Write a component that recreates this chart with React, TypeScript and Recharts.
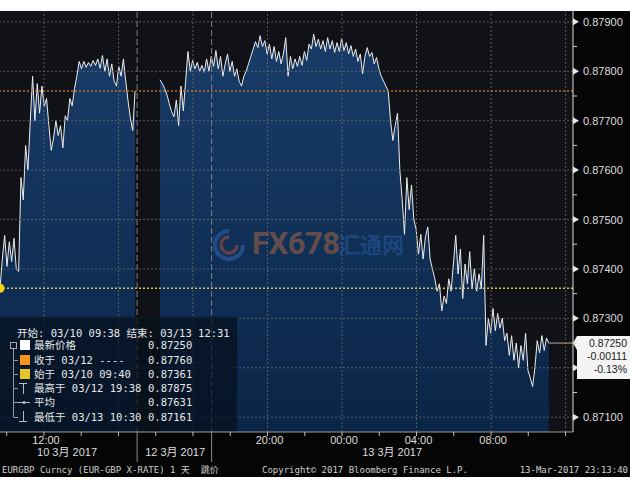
import { ComposedChart, Area, XAxis, YAxis, ReferenceLine, ReferenceDot } from "recharts";

// chart hours: 12 = 03/10 12:00, weekend squeezed out
const DAY1_START = 9.64;
const DAY2_START = 18.23;
const STEP = 0.125;

// EURGBP ticks, in 1e-5
const day1Prices = [
  87361, 87420, 87468, 87405, 87455, 87415, 87462, 87400, 87395, 87585,
  87540, 87650, 87600, 87700, 87790, 87700, 87775, 87715, 87770, 87730,
  87745, 87690, 87640, 87665, 87700, 87670, 87690, 87645, 87710, 87700,
  87745, 87730, 87765, 87790, 87820, 87805, 87820, 87808, 87818, 87810,
  87822, 87812, 87825, 87806, 87832, 87800, 87825, 87790, 87815, 87780,
  87770, 87810, 87790, 87825, 87780, 87740, 87705, 87680, 87760,
];
const day2Prices = [
  87783, 87775, 87765, 87752, 87734, 87718, 87708, 87742, 87690, 87770,
  87720, 87780, 87840, 87800, 87822, 87805, 87818, 87800, 87812, 87798,
  87825, 87800, 87830, 87810, 87842, 87805, 87830, 87790, 87815, 87835,
  87800, 87820, 87790, 87805, 87780, 87770, 87790, 87800, 87815, 87830,
  87845, 87860, 87848, 87872, 87850, 87862, 87835, 87855, 87825, 87850,
  87820, 87840, 87815, 87835, 87868, 87790, 87830, 87805, 87825, 87810,
  87830, 87812, 87840, 87822, 87855, 87845, 87875, 87850, 87865, 87845,
  87862, 87840, 87868, 87845, 87862, 87838, 87858, 87840, 87866, 87842,
  87858, 87835, 87852, 87830, 87845, 87820, 87835, 87795, 87830, 87848,
  87830, 87838, 87815, 87828, 87805, 87790, 87780, 87770, 87760, 87700,
  87660, 87690, 87715, 87600, 87540, 87470, 87585, 87520, 87570, 87500,
  87480, 87430, 87470, 87420, 87465, 87485, 87420, 87400, 87380, 87355,
  87370, 87315, 87345, 87330, 87380, 87355, 87410, 87468, 87390, 87440,
  87340, 87410, 87370, 87435, 87360, 87400, 87355, 87390, 87360, 87468,
  87245, 87300, 87270, 87320, 87275, 87310, 87280, 87300, 87255, 87270,
  87225, 87265, 87215, 87250, 87200, 87245, 87215, 87270, 87195, 87180,
  87162, 87200, 87255, 87230, 87265, 87235, 87260, 87250,
];

const X_DOMAIN = [9.64, 40.4];
const Y_DOMAIN = [0.8707, 0.87922];
const yMajor = [0.871, 0.872, 0.873, 0.874, 0.875, 0.876, 0.877, 0.878, 0.879];
const yMinor = [0.8715, 0.8725, 0.8735, 0.8745, 0.8755, 0.8765, 0.8775, 0.8785];
const xTicks = [10, 12, 14, 16, 18, 20, 22, 24, 26, 28, 30, 32, 34, 36, 38, 40];
const xGrid = [12, 16, 20, 24, 28, 32, 36, 40];
const timeTicks = [12, 24, 28, 32, 36];
const timeLabels = ["12:00", "20:00", "00:00", "04:00", "08:00"];
const dayBreaks = [17, 21];
const dayCenters = [13.24, 19.04, 30.69];
const dayLabels = ["10 3月 2017", "12 3月 2017", "13 3月 2017"];

const lastPrice = 0.8725;
const prevClose = 0.8776;
const openPrice = 0.87361;
const changeText = ["0.87250", "-0.00111", "-0.13%"];

const legendHeader = "开始: 03/10 09:38 结束: 03/13 12:31";
const legendNames = ["最新价格", "收于 03/12 ----", "始于 03/10 09:40", "最高于 03/12 19:38", "平均", "最低于 03/13 10:30"];
const legendValues = ["0.87250", "0.87760", "0.87361", "0.87875", "0.87631", "0.87161"];

const data = [
  ...day1Prices.map((p, i) => ({ t: DAY1_START + i * STEP, price: p / 1e5 })),
  { t: 17.5, price: null },
  ...day2Prices.map((p, i) => ({ t: DAY2_START + i * STEP, price: p / 1e5 })),
];
const lastT = data[data.length - 1].t;

const AXIS_FONT = "'Liberation Sans', 'Noto Sans CJK SC', sans-serif";
const MONO_FONT = "'DejaVu Sans Mono', 'Noto Sans CJK SC', monospace";

function PriceTick(props: any) {
  const { x, y, payload } = props;
  const v = payload.value;
  const major = yMajor.some((m) => Math.abs(m - v) < 1e-7);
  if (!major) return <line x1={x} x2={x + 4} y1={y} y2={y} stroke="#cfcfcf" />;
  // the last-price box hangs below the last price and covers this label
  const hidden = v < lastPrice + 0.0002 && v > lastPrice - 0.0008;
  return (
    <g>
      <path d={`M${x} ${y - 3.5} L${x + 6} ${y} L${x} ${y + 3.5} Z`} fill="#e6e6e6" />
      {!hidden && (
        <text x={x + 10} y={y + 4} fill="#dedede" fontSize={11} fontFamily={AXIS_FONT}>
          {v.toFixed(5)}
        </text>
      )}
    </g>
  );
}

// one axis carries the hour ticks, the day break rules and the day labels
function TimeTick(props: any) {
  const { x, y, payload } = props;
  const v = payload.value;
  if (dayBreaks.includes(v)) {
    return <line x1={x} x2={x} y1={y} y2={y + 30} stroke="#8c8c8c" />;
  }
  const d = dayCenters.indexOf(v);
  if (d >= 0) {
    return (
      <text x={x} y={y + 24} textAnchor="middle" fill="#dedede" fontSize={11} fontFamily={AXIS_FONT}>
        {dayLabels[d]}
      </text>
    );
  }
  const k = timeTicks.indexOf(v);
  return (
    <g>
      <line x1={x} x2={x} y1={y} y2={y + 4} stroke="#bdbdbd" />
      {k >= 0 && (
        <text x={x + 2} y={y + 12} textAnchor="middle" fill="#dedede" fontSize={11} fontFamily={AXIS_FONT}>
          {timeLabels[k]}
        </text>
      )}
    </g>
  );
}

function LastPriceBox(props: any) {
  const { viewBox } = props;
  const x = viewBox.x + viewBox.width;
  const y = viewBox.y;
  return (
    <g>
      <path
        d={`M${x} ${y} L${x + 4} ${y - 7} L${x + 62} ${y - 7} L${x + 62} ${y + 36} L${x + 4} ${y + 36} L${x + 4} ${y + 7} Z`}
        fill="#f4f4f4"
      />
      {changeText.map((s, i) => (
        <text key={s} x={x + 54} y={y + 4 + i * 13} textAnchor="end" fill="#1a1a1a" fontSize={10.5} fontFamily={AXIS_FONT}>
          {s}
        </text>
      ))}
    </g>
  );
}

const swatches = ["#ffffff", "#f2961e", "#e6c52a"];

function LegendBox() {
  const rowY = [28, 43, 57, 71, 85, 100];
  return (
    <div style={{ position: "absolute", left: 0, top: 317, width: 237, height: 114, background: "rgba(6,15,28,0.72)", fontFamily: MONO_FONT, fontSize: 10.5, color: "#e8e8e8" }}>
      <div style={{ position: "absolute", left: 17, top: 9, whiteSpace: "nowrap", lineHeight: "14px" }}>{legendHeader}</div>
      <svg width={40} height={114} style={{ position: "absolute", left: 0, top: 0 }}>
        <rect x={10.5} y={25.5} width={6} height={6} fill="none" stroke="#aaa" />
        <line x1={13.5} x2={13.5} y1={32} y2={100} stroke="#999" />
        {rowY.slice(1).map((ry) => (
          <line key={ry} x1={13.5} x2={18} y1={ry + 0.5} y2={ry + 0.5} stroke="#999" />
        ))}
        {swatches.map((c, i) => (
          <rect key={c} x={20} y={rowY[i] - 5} width={10} height={10} fill={c} />
        ))}
        <line x1={19} x2={27} y1={66.5} y2={66.5} stroke="#bbb" />
        <line x1={23.5} x2={23.5} y1={66} y2={77} stroke="#bbb" />
        <line x1={18} x2={30} y1={85.5} y2={85.5} stroke="#bbb" />
        <circle cx={24} cy={85.5} r={1.6} fill="#bbb" />
        <line x1={23.5} x2={23.5} y1={94} y2={104} stroke="#bbb" />
        <line x1={19} x2={27} y1={104.5} y2={104.5} stroke="#bbb" />
      </svg>
      {legendNames.map((n, i) => (
        <div key={n} style={{ position: "absolute", left: 34, top: rowY[i] - 7, lineHeight: "14px", whiteSpace: "nowrap" }}>{n}</div>
      ))}
      {legendValues.map((v, i) => (
        <div key={i} style={{ position: "absolute", left: 148, top: rowY[i] - 7, lineHeight: "14px" }}>{v}</div>
      ))}
    </div>
  );
}

function Watermark() {
  return (
    <div style={{ position: "absolute", left: 210, top: 226, width: 200, height: 36, pointerEvents: "none", whiteSpace: "nowrap" }}>
      <svg width={34} height={34} style={{ position: "absolute", left: 2, top: 2, opacity: 0.45 }}>
        <path d="M17 3 A14 14 0 1 0 31 17" fill="none" stroke="#3a70c4" strokeWidth={4} />
        <path d="M17 9 A8 8 0 1 0 25 17" fill="none" stroke="#c8553a" strokeWidth={3.5} />
      </svg>
      <div style={{ position: "absolute", left: 42, top: -1, fontFamily: "'Liberation Sans Narrow', 'Roboto', sans-serif", fontWeight: 700, fontSize: 31, color: "#c8703c", opacity: 0.45, letterSpacing: -0.5 }}>
        FX678
      </div>
      <div style={{ position: "absolute", left: 128, top: 3, fontFamily: "'Noto Sans CJK SC', sans-serif", fontWeight: 700, fontSize: 22, lineHeight: "28px", color: "#2f68b4", opacity: 0.4 }}>
        汇通网
      </div>
    </div>
  );
}

export default function App() {
  return (
    <div style={{ position: "absolute", left: 0, top: 0, width: 630, height: 490, background: "#ffffff", overflow: "hidden" }}>
      <div style={{ position: "absolute", left: 0, top: 11, width: 630, height: 466, background: "#050505" }} />
      <div style={{ position: "absolute", left: 0, top: 11, width: 573, height: 421, background: "#111217" }} />
      <ComposedChart
        width={630}
        height={490}
        data={data}
        margin={{ top: 11, right: 0, bottom: 30, left: 0 }}
        style={{ position: "absolute", left: 0, top: 0 }}
      >
        <defs>
          <linearGradient id="navyFill" x1="0" y1="0" x2="0" y2="1">
            <stop offset="0%" stopColor="#183c69" />
            <stop offset="100%" stopColor="#0a2547" />
          </linearGradient>
        </defs>
        <XAxis
          dataKey="t"
          type="number"
          domain={X_DOMAIN}
          ticks={[...xTicks, ...dayCenters, ...dayBreaks].sort((a, b) => a - b)}
          interval={0}
          allowDataOverflow
          height={28}
          tickSize={0}
          tickMargin={0}
          tickLine={false}
          axisLine={{ stroke: "#9a9a9a" }}
          tick={<TimeTick />}
        />
        <YAxis
          orientation="right"
          type="number"
          domain={Y_DOMAIN}
          ticks={[...yMajor, ...yMinor].sort((a, b) => a - b)}
          interval={0}
          allowDataOverflow
          width={57}
          tickSize={0}
          tickMargin={0}
          tickLine={false}
          axisLine={{ stroke: "#d8d8d8" }}
          tick={<PriceTick />}
        />
        <Area
          dataKey="price"
          type="linear"
          stroke="#ececec"
          strokeWidth={1}
          fill="url(#navyFill)"
          fillOpacity={1}
          connectNulls={false}
          dot={false}
          activeDot={false}
          isAnimationActive={false}
        />
        {yMajor.map((v) => (
          <ReferenceLine key={"gy" + v} y={v} stroke="#6b6b6b" strokeDasharray="2 2" strokeOpacity={0.8} />
        ))}
        {xGrid.map((v) => (
          <ReferenceLine key={"gx" + v} x={v} stroke="#6b6b6b" strokeDasharray="2 2" strokeOpacity={0.8} />
        ))}
        {dayBreaks.map((v) => (
          <ReferenceLine key={"db" + v} x={v} stroke="#808080" strokeDasharray="6 3" />
        ))}
        <ReferenceLine y={prevClose} stroke="#c0702c" strokeDasharray="2 2" strokeWidth={1.5} />
        <ReferenceLine y={openPrice} stroke="#d0c868" strokeDasharray="2 2" strokeWidth={1.5} />
        <ReferenceLine
          segment={[{ x: lastT, y: lastPrice }, { x: X_DOMAIN[1], y: lastPrice }]}
          stroke="#bba98a"
          label={<LastPriceBox />}
        />
        <ReferenceDot x={X_DOMAIN[0]} y={openPrice} r={4.5} fill="#f2d60c" stroke="none" />
      </ComposedChart>
      <Watermark />
      <LegendBox />
      <div style={{ position: "absolute", left: 0, top: 463, width: 630, height: 14, fontFamily: MONO_FONT, fontSize: 9, color: "#cfcfcf", lineHeight: "14px", whiteSpace: "pre" }}>
        <span style={{ position: "absolute", left: 2 }}>EURGBP Curncy (EUR-GBP X-RATE) 1 天  跳价</span>
        <span style={{ position: "absolute", left: 262 }}>Copyright© 2017 Bloomberg Finance L.P.</span>
        <span style={{ position: "absolute", right: 2 }}>13-Mar-2017 23:13:40</span>
      </div>
    </div>
  );
}
